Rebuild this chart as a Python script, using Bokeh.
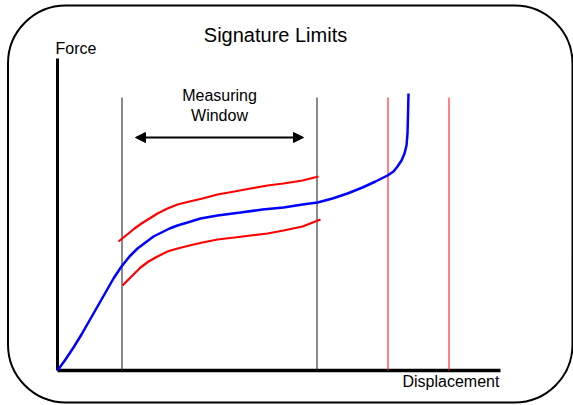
from bokeh.plotting import figure
from bokeh.models import Range1d, BoxAnnotation, Arrow, NormalHead
from bokeh.core.properties import value
from bokeh.embed import file_html
from bokeh.resources import INLINE

# ---- data (displacement, force) ----
nominal_disp = [0, 8, 16, 24, 32, 40, 48, 56, 64, 72, 80, 88, 96, 104, 112, 120, 130, 143,
                160, 183, 205, 226, 245, 260, 275, 290, 305, 318, 330, 336, 340, 344, 347,
                349, 350, 350.5, 351]
nominal_force = [0, 11, 23, 36, 50, 64, 78, 92, 104, 114, 122, 128, 134, 138, 142, 145, 148, 152,
                 155, 158, 161, 163, 166, 168, 172, 177, 183, 189, 195, 199, 204, 210, 217,
                 225, 237, 255, 277]

upper_disp = [61, 66, 71, 77, 84, 92, 100, 110, 120, 132, 145, 160, 177, 193, 210, 226, 245, 261]
upper_force = [129, 133, 137, 142, 147, 152, 157, 162, 166, 169, 172, 176, 179, 182, 185, 187, 190, 194]

lower_disp = [65, 70, 76, 83, 91, 100, 110, 120, 132, 145, 160, 177, 193, 210, 226, 245, 263]
lower_force = [85, 90, 96, 103, 109, 114, 119, 122, 125, 128, 131, 133, 135, 137, 140, 144, 151]

window_disp = [64.5, 259.5]      # measuring window start / end
limit_disp = [330.5, 391.5]      # displacement limits
guide_top = 273
axis_x_end = 443
axis_y_end = 312

FONT = value("Liberation Sans")

p = figure(width=573, height=405, output_backend="svg", toolbar_location=None,
           x_range=Range1d(-57, 516), y_range=Range1d(-35, 370),
           x_axis_type=None, y_axis_type=None, min_border=0)
p.grid.visible = False
p.outline_line_color = None
p.background_fill_color = "white"

# rounded frame
p.add_layout(BoxAnnotation(left=-49.5, right=515, top=365, bottom=-32, border_radius=58,
                           fill_color=None, fill_alpha=0, line_color="black",
                           line_alpha=1, line_width=2))

# axes
p.line([0, 0], [0, axis_y_end], line_color="black", line_width=3)
p.line([0, axis_x_end], [0, 0], line_color="black", line_width=3.5)

# vertical guides
for xv in window_disp:
    p.line([xv, xv], [0, guide_top], line_color="#2a2a2a", line_width=1.1)
for xv in limit_disp:
    p.line([xv, xv], [0, guide_top], line_color="#ff1a1a", line_width=1.1)

# curves
p.line(upper_disp, upper_force, line_color="#ff0000", line_width=2.2)
p.line(lower_disp, lower_force, line_color="#ff0000", line_width=2.2)
p.line(nominal_disp, nominal_force, line_color="#0000ff", line_width=2.5)

# measuring window arrow
p.add_layout(Arrow(start=NormalHead(size=10, fill_color="black", line_color="black"),
                   end=NormalHead(size=10, fill_color="black", line_color="black"),
                   x_start=78, x_end=246, y_start=233, y_end=233,
                   line_color="black", line_width=2))

# texts
p.text(x=[218], y=[336], text=["Signature Limits"], text_font=FONT, text_font_size="20px",
       text_align="center", text_baseline="middle", text_color="black")
p.text(x=[-2], y=[322], text=["Force"], text_font=FONT, text_font_size="16px",
       text_align="left", text_baseline="middle", text_color="black")
p.text(x=[345], y=[-11], text=["Displacement"], text_font=FONT, text_font_size="16px",
       text_align="left", text_baseline="middle", text_color="black")
p.text(x=[162, 162], y=[275, 255], text=["Measuring", "Window"], text_font=FONT,
       text_font_size="16px", text_align="center", text_baseline="middle", text_color="black")

open("out.html", "w").write(file_html(p, INLINE))
